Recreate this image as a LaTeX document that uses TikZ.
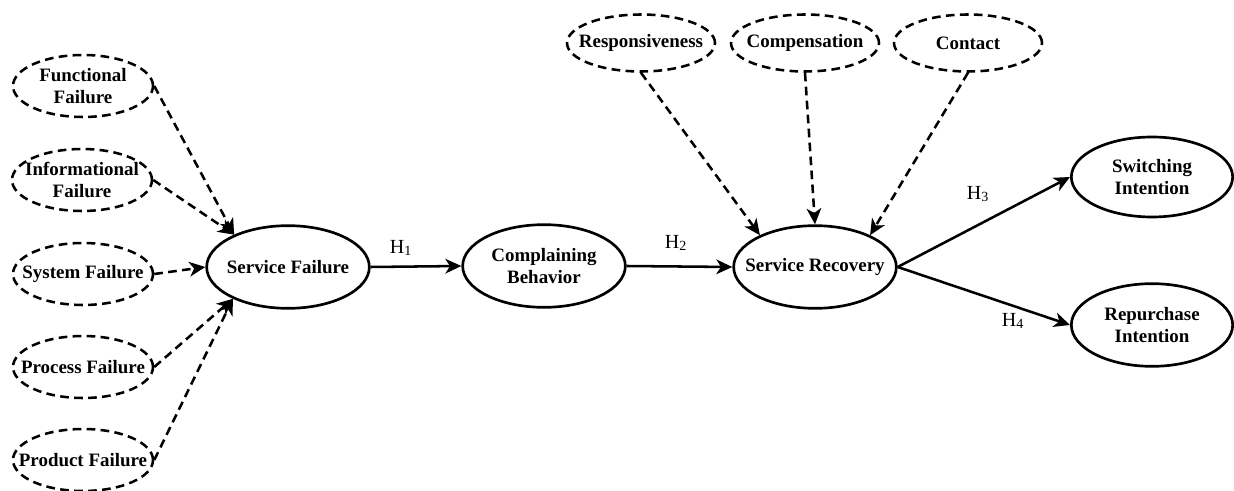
\documentclass[tikz,border=0pt]{standalone}
\usepackage{fontspec}
\setmainfont{Liberation Serif}
\usetikzlibrary{shapes.geometric,arrows.meta}
\begin{document}
\begin{tikzpicture}[x=0.75pt,y=-0.75pt,
  lat/.style={ellipse,draw,line width=2pt,inner sep=0pt,minimum width=122pt,minimum height=62pt},
  latr/.style={lat,minimum width=121pt,minimum height=60pt},
  dim/.style={ellipse,draw,line width=1.9pt,dash pattern=on 6.5pt off 4pt,inner sep=0pt,minimum width=105pt,minimum height=46.5pt},
  dimt/.style={dim,minimum width=111pt,minimum height=42.75pt},
  every label/.style={font=\fontsize{14.2}{16.5}\selectfont\bfseries,align=center,inner sep=0pt},
  solidarr/.style={line width=1.9pt,-{Stealth[length=12pt,width=11pt,inset=3.5pt]}},
  dasharr/.style={line width=1.9pt,dash pattern=on 6.5pt off 4pt,-{Stealth[length=12pt,width=11pt,inset=3.5pt]}},
  hlab/.style={font=\fontsize{15}{17}\selectfont,inner sep=0pt}]
\useasboundingbox (0,0) rectangle (1234,491);
% left dimensions
\node[dim,label=center:{Functional\\Failure}] (ff) at (83,86) {};
\node[dim,label=center:{Informational\\Failure}] (inf) at (82,180) {};
\node[dim,label=center:{System Failure}] (sys) at (83,274) {};
\node[dim,label=center:{Process Failure}] (pro) at (83,367) {};
\node[dim,label=center:{Product Failure}] (prd) at (83,460) {};
% main constructs
\node[lat,label=center:{Service Failure}] (sf) at (288,267) {};
\node[lat,label=center:{Complaining\\Behavior}] (cb) at (544,266) {};
\node[lat,label=center:{Service Recovery}] (sr) at (815,267) {};
% top dimensions
\node[dimt,label=center:{Responsiveness}] (resp) at (641,43) {};
\node[dimt,label=center:{Compensation}] (comp) at (805,43) {};
\node[dimt,label=center:{Contact}] (cont) at (968,43) {};
% outcomes
\node[latr,label=center:{Switching\\Intention}] (sw) at (1152,177) {};
\node[latr,minimum height=62pt,label=center:{Repurchase\\Intention}] (rp) at (1152,325) {};
% dashed arrows
\draw[dasharr] (ff.east) -- (sf.149);
\draw[dasharr] (inf.east) -- (sf.149);
\draw[dasharr] (sys.east) -- (sf.west);
\draw[dasharr] (pro.east) -- (sf.210);
\draw[dasharr] (prd.east) -- (sf.210);
\draw[dasharr] (resp.south) -- (sr.150);
\draw[dasharr] (comp.south) -- (sr.north);
\draw[dasharr] (cont.south) -- (sr.30);
% solid arrows
\draw[solidarr] (sf.east) -- (cb.west);
\draw[solidarr] (cb.east) -- (sr.west);
\draw[solidarr] (sr.east) -- (sw.west);
\draw[solidarr] (sr.east) -- (rp.west);
% hypothesis labels
\node[hlab] (h1) at (401,248) {H\textsubscript{1}};
\node[hlab] (h2) at (676,243) {H\textsubscript{2}};
\node[hlab] (h3) at (978,194) {H\textsubscript{3}};
\node[hlab] (h4) at (1013,321) {H\textsubscript{4}};
\end{tikzpicture}
\end{document}
